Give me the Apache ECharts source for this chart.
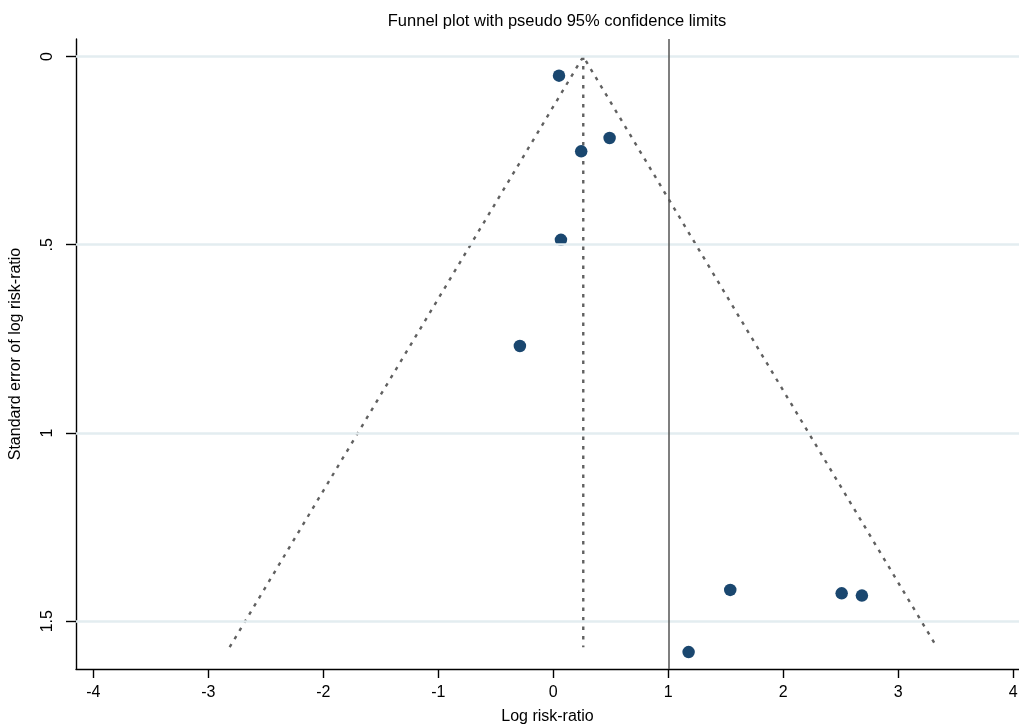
<!DOCTYPE html>
<html>
<head>
<meta charset="utf-8">
<script src="https://cdn.jsdelivr.net/npm/echarts@6/dist/echarts.min.js"></script>
<style>html,body{margin:0;padding:0;background:#fff;}#chart{width:1019px;height:727px;}</style>
</head>
<body>
<div id="chart"></div>
<script>
// Study estimates: log risk-ratio and its standard error
const logRR = [0.050, 0.490, 0.243, 0.067, -0.290, 1.539, 2.508, 2.684, 1.177];
const seLogRR = [0.051, 0.2165, 0.252, 0.487, 0.769, 1.417, 1.426, 1.432, 1.582];
// Pseudo 95% confidence funnel
const funnelX = [-2.814, 0.261, 3.336];
const funnelSE = [1.569, 0, 1.569];
const pooledX = [0.261, 0.261];
const pooledSE = [0, 1.569];
const nullLineX = 1;
// Axis ticks
const xTicks = [-4, -3, -2, -1, 0, 1, 2, 3, 4];
const xTickLabels = ['-4', '-3', '-2', '-1', '0', '1', '2', '3', '4'];
const yTicks = [0, 0.5, 1, 1.5];
const yTickLabels = ['0', '.5', '1', '1.5'];

const FONT = '"Liberation Sans", Arial, sans-serif';
const chart = echarts.init(document.getElementById('chart'), null, {renderer: 'canvas'});

const scatterData = logRR.map((x, i) => [x, seLogRR[i]]);
const funnelData = funnelX.map((x, i) => [x, funnelSE[i]]);
const pooledData = pooledX.map((x, i) => [x, pooledSE[i]]);

const option = {
  backgroundColor: '#fff',
  animation: false,
  title: {
    text: 'Funnel plot with pseudo 95% confidence limits',
    left: 552, top: 8, textAlign: 'center',
    textStyle: {fontFamily: FONT, fontSize: 16.5, fontWeight: 'normal', color: '#000'}
  },
  grid: {left: 76, right: 0, top: 39, bottom: 58, outerBoundsMode: 'none'},
  xAxis: {
    type: 'value', min: -4.15, max: 4.05,
    name: 'Log risk-ratio', nameLocation: 'middle', nameGap: 40,
    nameTextStyle: {fontFamily: FONT, fontSize: 16, color: '#000'},
    axisLine: {show: true, onZero: false, lineStyle: {color: '#000', width: 1.4}},
    axisTick: {show: true, length: 9, customValues: xTicks, lineStyle: {color: '#000', width: 1.4}},
    axisLabel: {customValues: xTicks, margin: 16, fontFamily: FONT, fontSize: 16, color: '#000',
      formatter: v => xTickLabels[xTicks.indexOf(v)] ?? ''},
    splitLine: {show: false}
  },
  yAxis: {
    type: 'value', inverse: true, min: -0.0465, max: 1.627,
    name: 'Standard error of log risk-ratio', nameLocation: 'middle', nameGap: 52, nameRotate: 90,
    nameTextStyle: {fontFamily: FONT, fontSize: 16, color: '#000'},
    axisLine: {show: true, onZero: false, lineStyle: {color: '#000', width: 1.4}},
    axisTick: {show: true, length: 10, customValues: yTicks, lineStyle: {color: '#000', width: 1.4}},
    axisLabel: {customValues: yTicks, rotate: 90, margin: 20, fontFamily: FONT, fontSize: 16, color: '#000',
      formatter: v => yTickLabels[yTicks.indexOf(v)] ?? ''},
    splitLine: {show: false}
  },
  series: [
    {
      type: 'line', data: [], silent: true, z: 1,
      markLine: {
        silent: true, symbol: 'none', animation: false,
        label: {show: false},
        lineStyle: {color: '#e3edf0', width: 2.5, type: 'solid'},
        data: yTicks.map(v => ({yAxis: v}))
      }
    },
    {
      type: 'line', data: [], silent: true, z: 2,
      markLine: {
        silent: true, symbol: 'none', animation: false,
        label: {show: false},
        lineStyle: {color: '#555', width: 1.5, type: 'solid'},
        data: [{xAxis: nullLineX}]
      }
    },
    {
      type: 'line', data: funnelData, showSymbol: false, symbol: 'none', z: 3,
      lineStyle: {color: '#606060', width: 2.4, type: [3.5, 6]}
    },
    {
      type: 'line', data: pooledData, showSymbol: false, symbol: 'none', z: 3,
      lineStyle: {color: '#606060', width: 2.4, type: [3.5, 6]}
    },
    {
      type: 'scatter', data: scatterData, symbol: 'circle', symbolSize: 12.5, z: 4,
      itemStyle: {color: '#1a476f', opacity: 1}
    }
  ]
};
chart.setOption(option);
</script>
</body>
</html>
